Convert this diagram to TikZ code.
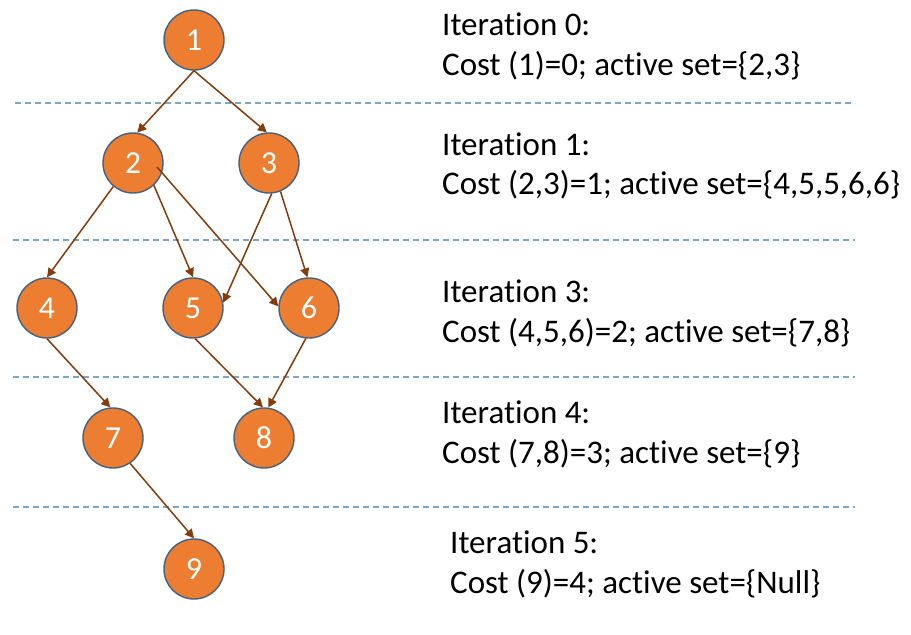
\documentclass[tikz,border=0pt]{standalone}
\usepackage{fontspec}
\setmainfont{Carlito}[Ligatures=NoCommon]
\usetikzlibrary{arrows.meta}
\definecolor{nodefill}{HTML}{ED7D31}
\definecolor{nodeline}{HTML}{44617F}
\definecolor{edgecol}{HTML}{843C0C}
\definecolor{sepcol}{HTML}{7AA7C7}

\begin{document}
\begin{tikzpicture}[x=1pt,y=-1pt,
  state/.style={circle,fill=nodefill,draw=nodeline,line width=1.4pt,minimum size=60pt,
                inner sep=0pt,text=white,font=\fontsize{32}{32}\selectfont},
  edge/.style={draw=edgecol,line width=1.5pt,-{Triangle[length=9pt,width=9pt]}},
  sep/.style={sepcol,line width=1.2pt,dash pattern=on 6pt off 4pt},
  info/.style={anchor=base west,inner sep=0pt,font=\fontsize{33}{40}\selectfont}]

\useasboundingbox[fill=white] (0,0) rectangle (911,635);

% iteration separators
\coordinate (s1a) at (15,103);  \coordinate (s1b) at (855,103);
\coordinate (s2a) at (13,240);  \coordinate (s2b) at (855,240);
\coordinate (s3a) at (13,377);  \coordinate (s3b) at (855,377);
\coordinate (s4a) at (13,507);  \coordinate (s4b) at (855,507);
\draw[sep] (s1a) -- (s1b);
\draw[sep] (s2a) -- (s2b);
\draw[sep] (s3a) -- (s3b);
\draw[sep] (s4a) -- (s4b);

% graph nodes
\node[state] (n1) at (194,40)  {1};
\node[state] (n2) at (133,163) {2};
\node[state] (n3) at (269,163) {3};
\node[state] (n4) at (47,308)  {4};
\node[state] (n5) at (193,308) {5};
\node[state] (n6) at (309,308) {6};
\node[state] (n7) at (113,438) {7};
\node[state] (n8) at (264,438) {8};
\node[state] (n9) at (194,569) {9};

% edges
\draw[edge] (n1.south) -- (n2.82);
\draw[edge] (n1.south) -- (n3.94);
\draw[edge] (n2.230) -- (n4.north);
\draw[edge] (n2.313) -- (n5.north);
\draw[edge] ([xshift=24pt,yshift=-4pt]n2.center) -- (n6.177);
\draw[edge] (n3.275) -- (n5.10);
\draw[edge] (n3.292) -- (n6.93);
\draw[edge] (n4.south) -- (n7.95);
\draw[edge] (n5.274) -- (n8.92);
\draw[edge] (n6.264) -- (n8.82);
\draw[edge] (n7.304) -- (n9.north);

% iteration notes
\node[info] (t0a) at (442,35)  {Iteration 0:};
\node[info] (t0b) at (442,75)  {Cost (1)=0; active set=\{2,3\}};
\node[info] (t1a) at (442,155) {Iteration 1:};
\node[info] (t1b) at (442,194) {Cost (2,3)=1; active set=\{4,5,5,6,6\}};
\node[info] (t3a) at (442,302) {Iteration 3:};
\node[info] (t3b) at (442,342) {Cost (4,5,6)=2; active set=\{7,8\}};
\node[info] (t4a) at (442,423) {Iteration 4:};
\node[info] (t4b) at (442,463) {Cost (7,8)=3; active set=\{9\}};
\node[info] (t5a) at (450,553) {Iteration 5:};
\node[info] (t5b) at (450,593) {Cost (9)=4; active set=\{Null\}};
\end{tikzpicture}
\end{document}
